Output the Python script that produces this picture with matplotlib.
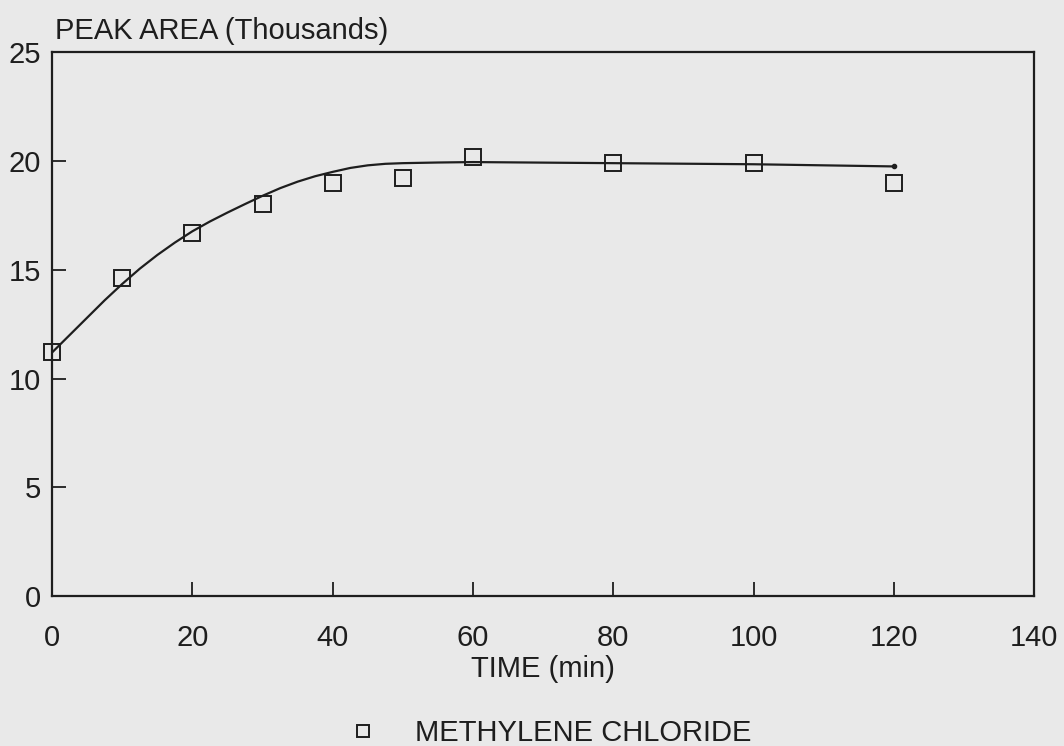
import numpy as np
import matplotlib.pyplot as plt

# measured points
time_min = [0, 10, 20, 30, 40, 50, 60, 80, 100, 120]
peak_area = [11.2, 14.6, 16.7, 18.0, 19.0, 19.2, 20.2, 19.9, 19.9, 19.0]

# fitted curve
fit_time = [0, 2.5, 5, 7.5, 10, 12.5, 15, 17.5, 20, 22.5, 25, 27.5, 30, 32.5,
            35, 37.5, 40, 42.5, 45, 47.5, 50, 55, 60, 80, 100, 120]
fit_area = [11.2, 12.0, 12.8, 13.6, 14.35, 15.05, 15.68, 16.25, 16.77, 17.22,
            17.63, 18.02, 18.4, 18.75, 19.05, 19.3, 19.5, 19.68, 19.8, 19.87,
            19.9, 19.93, 19.95, 19.9, 19.85, 19.75]

x_ticks = [0, 20, 40, 60, 80, 100, 120, 140]
y_ticks = [0, 5, 10, 15, 20, 25]

plt.rcParams['font.family'] = ['Liberation Sans', 'DejaVu Sans']
ink = '#1e1e1e'
paper = '#e9e9e9'
fs = 21

fig = plt.figure(figsize=(10.64, 7.46), dpi=100, facecolor=paper)
ax = fig.add_axes([0.049, 0.201, 0.923, 0.729])
ax.set_facecolor(paper)

ax.plot(fit_time, fit_area, color=ink, lw=1.6, zorder=2)
ax.plot(fit_time[-1:], fit_area[-1:], 'o', color=ink, ms=3, zorder=2)
ax.plot(time_min, peak_area, 's', mfc='none', mec=ink, mew=1.4, ms=11,
        label='METHYLENE CHLORIDE', zorder=3, clip_on=False)

ax.set_xlim(0, 140)
ax.set_ylim(0, 25)
ax.set_xticks(x_ticks)
ax.set_yticks(y_ticks)
ax.tick_params(direction='in', length=10, width=1.3, color=ink,
               labelsize=fs, labelcolor=ink)
ax.tick_params(axis='x', pad=20)
ax.tick_params(axis='y', pad=8)
for s in ax.spines.values():
    s.set_color(ink)
    s.set_linewidth(1.6)

fig.text(0.052, 0.958, 'PEAK AREA (Thousands)', fontsize=fs, color=ink,
         ha='left', va='center')
ax.set_xlabel('TIME (min)', fontsize=fs, color=ink, labelpad=2)

leg = fig.legend(loc='center', bbox_to_anchor=(0.51, 0.017), frameon=False,
                 fontsize=fs, handletextpad=0.8, markerscale=0.85)
for t in leg.get_texts():
    t.set_color(ink)

fig.savefig('out.png', dpi=100, facecolor=paper)
